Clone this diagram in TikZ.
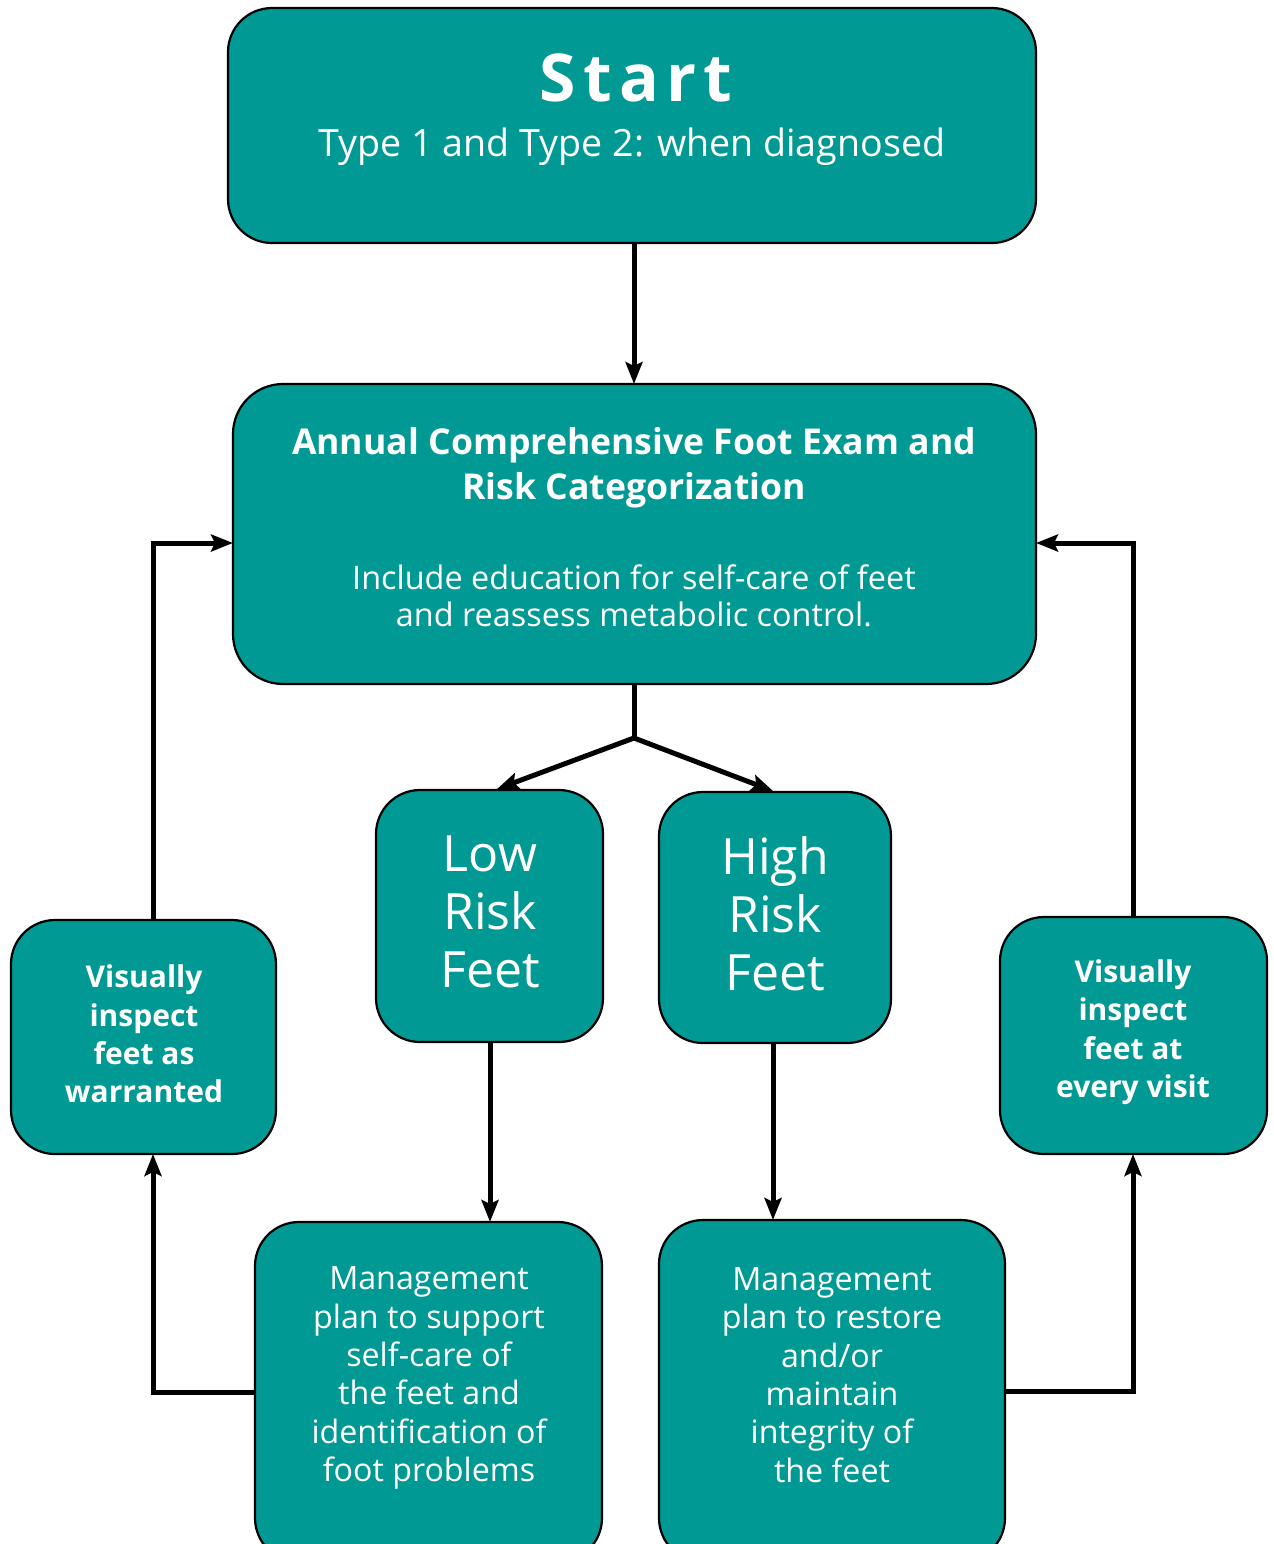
\documentclass[tikz,border=0pt]{standalone}
\usepackage{fontspec}
\setmainfont{Open Sans}
\usetikzlibrary{arrows.meta,calc}
\definecolor{tealbox}{RGB}{0,153,148}
\begin{document}
\begin{tikzpicture}[x=0.5pt,y=-0.5pt,
  box/.style={draw=black,line width=1.1pt,fill=tealbox,rounded corners=22pt,anchor=north west,inner sep=0pt,outer sep=0pt},
  txt/.style={text=white,align=center,inner sep=0pt},
  conn/.style={line width=2.5pt,-{Stealth[length=11pt,width=8.5pt,inset=2pt]}},
  plain/.style={line width=2.5pt}]
\useasboundingbox (0,0) rectangle (1274,1544);
\clip (0,0) rectangle (1274,1544);
% boxes
\node[box,minimum width=404pt,minimum height=117.5pt] (start) at (228,8) {};
\node[box,rounded corners=25pt,minimum width=401.5pt,minimum height=150pt] (annual) at (233,384) {};
\node[box,minimum width=113.5pt,minimum height=126pt] (low) at (376,790) {};
\node[box,minimum width=116pt,minimum height=125.5pt] (high) at (659,792) {};
\node[box,minimum width=132.5pt,minimum height=117pt] (visL) at (11,920) {};
\node[box,minimum width=133.5pt,minimum height=118.5pt] (visR) at (1000,917) {};
\node[box,minimum width=173.5pt,minimum height=170pt] (mgL) at (255,1222) {};
\node[box,minimum width=173pt,minimum height=171pt] (mgR) at (659,1220) {};
% texts
\node[txt,font=\fontsize{33}{40}\selectfont\bfseries\addfontfeature{LetterSpace=11}] (tstart) at (636,78) {Start};
\node[txt,font=\fontsize{18.8}{22}\selectfont] (ttype) at (632,147) {Type 1 and Type 2: when diagnosed};
\node[txt,font=\fontsize{17.8}{22.5}\selectfont\bfseries] (tannual) at (634,468) {Annual Comprehensive Foot Exam and\\Risk Categorization};
\node[txt,font=\fontsize{16.2}{18.6}\selectfont] (tinc) at (634,596) {Include education for self-care of feet\\and reassess metabolic control.};
\node[txt,font=\fontsize{25}{29}\selectfont] (tlow) at (490,912) {Low\\Risk\\Feet};
\node[txt,font=\fontsize{25}{29}\selectfont] (thigh) at (775,914) {High\\Risk\\Feet};
\node[txt,font=\fontsize{15}{19.2}\selectfont\bfseries] (tvisL) at (144,1034) {Visually\\inspect\\feet as\\warranted};
\node[txt,font=\fontsize{15}{19.2}\selectfont\bfseries] (tvisR) at (1133,1032) {Visually\\inspect\\feet at\\every visit};
\node[txt,font=\fontsize{16.1}{19.2}\selectfont] (tmgL) at (429,1378) {Management\\plan to support\\self-care of\\the feet and\\identification of\\foot problems};
\node[txt,font=\fontsize{16.1}{19.2}\selectfont] (tmgR) at (832,1375) {Management\\plan to restore\\and/or\\maintain\\integrity of\\the feet};
% connectors
\coordinate (split) at (634,738);
\coordinate (lx) at (153,0);
\coordinate (rx) at (1133,0);
\coordinate (ay) at (0,543);
\draw[conn] (split |- start.south) -- (split |- annual.north);
\draw[plain] (split |- annual.south) -- (split);
\draw[conn] (split) -- (497,789);
\draw[conn] (split) -- (773,791);
\draw[conn] (490,1042) -- (490,1222);
\draw[conn] (773,1043) -- (773,1220);
\draw[conn] (mgL.west) -| (lx |- visL.south);
\draw[conn] (lx |- visL.north) |- (ay -| annual.west);
\draw[conn] (mgR.east) -| (rx |- visR.south);
\draw[conn] (rx |- visR.north) |- (ay -| annual.east);
\end{tikzpicture}
\end{document}
